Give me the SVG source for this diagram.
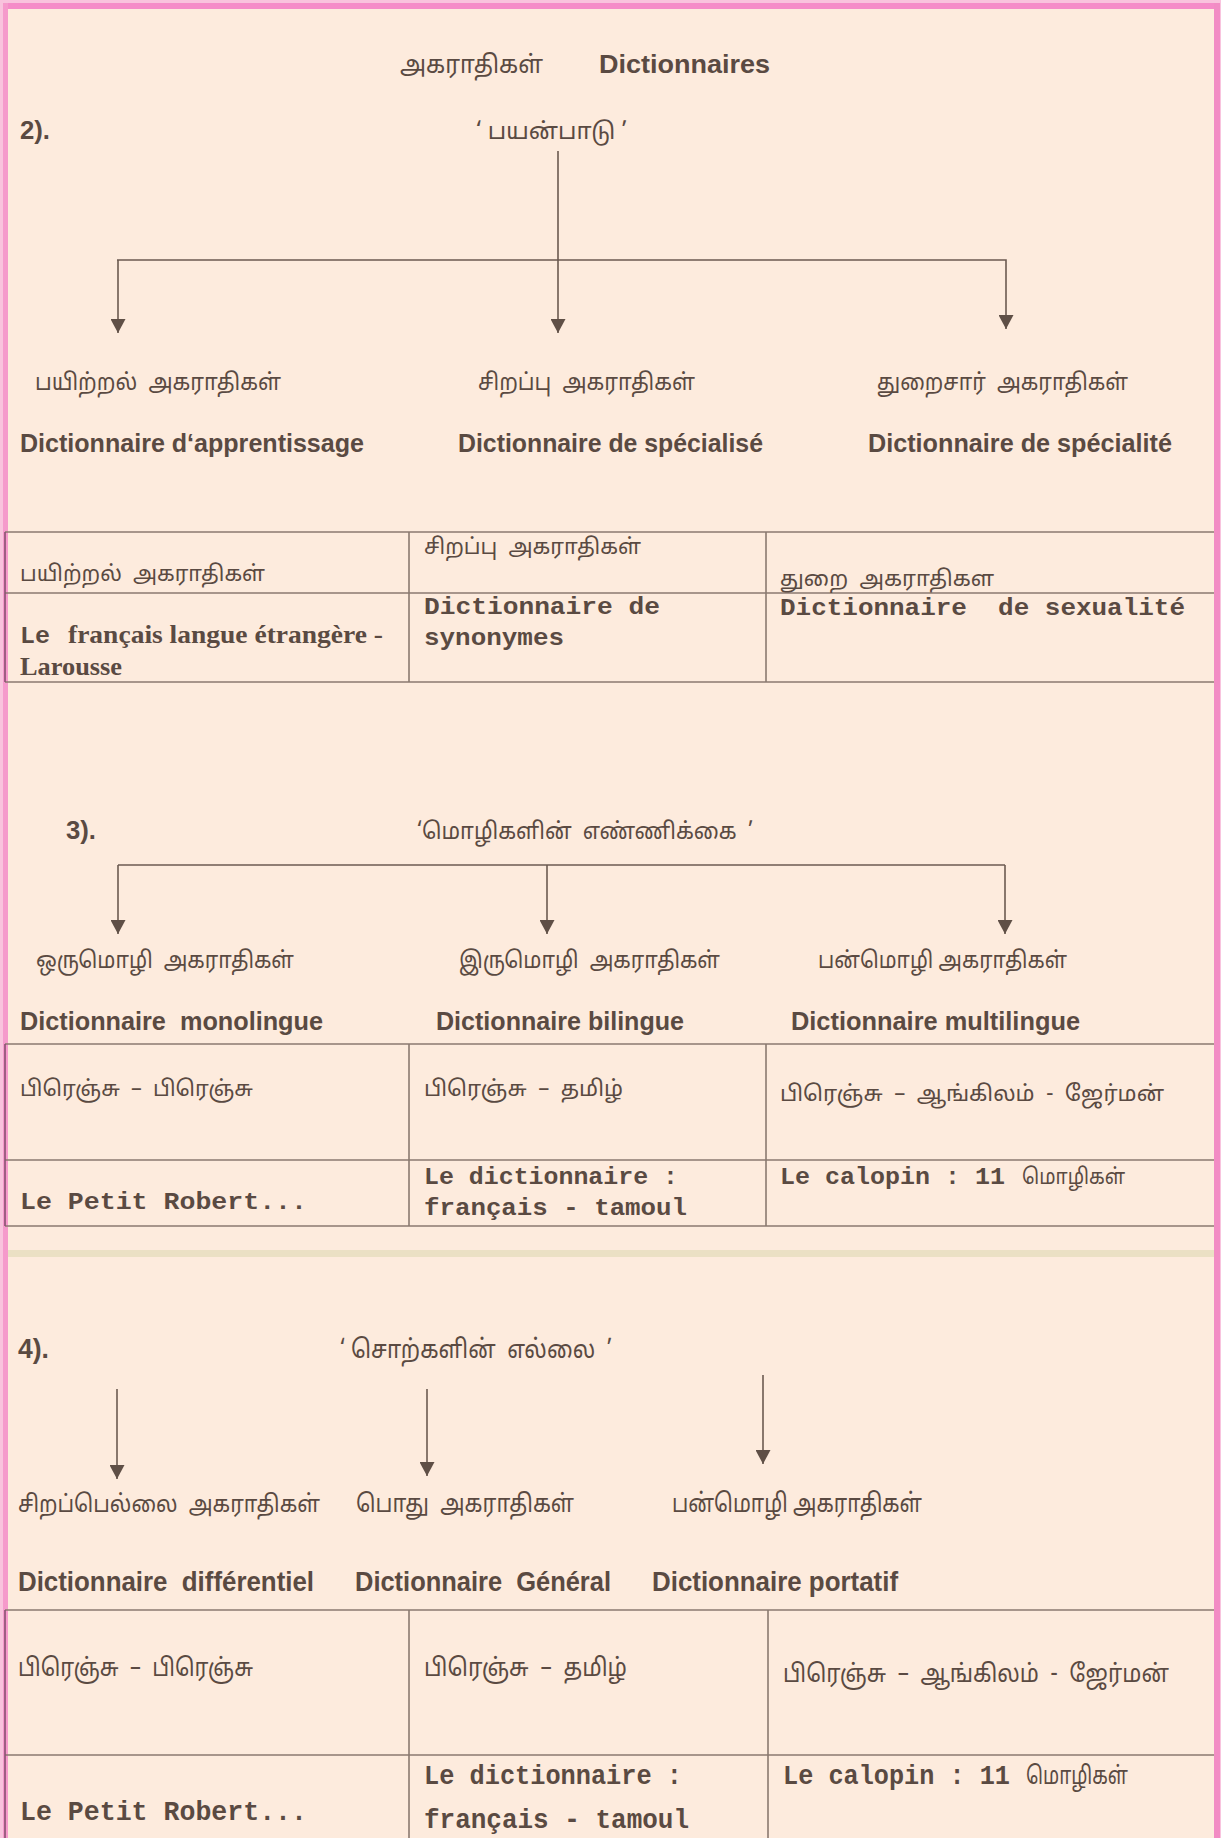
<svg xmlns="http://www.w3.org/2000/svg" width="1221" height="1838" viewBox="0 0 1221 1838">
<defs>
<style>
text{fill:#5a4a42;white-space:pre}
.ta{font-family:"Noto Sans Tamil","Lohit Tamil","Noto Serif Tamil","Noto Sans",sans-serif}
.fr{font-family:"Liberation Sans",Arial,sans-serif;font-weight:bold}
.mo{font-family:"Liberation Mono","Courier New",monospace;font-weight:bold}
.se{font-family:"Liberation Serif","Times New Roman",serif;font-weight:bold}
.cn{stroke:#6b5a50;stroke-width:1.6;fill:none}
.tb{stroke:#8a7a70;stroke-width:1.6;fill:none}
</style>
<marker id="ah" viewBox="0 0 14 15" markerWidth="14" markerHeight="15" refX="14" refY="7.5" orient="auto" markerUnits="userSpaceOnUse">
<path d="M0,0 L14,7.5 L0,15 Z" fill="#5f4f46"/>
</marker>
</defs>
<rect x="0" y="0" width="1221" height="1838" fill="#fdebdd"/>
<rect x="0" y="1250" width="1214" height="7" fill="#ebe0c4"/>
<!-- border -->
<rect x="0" y="0" width="1221" height="3" fill="#f9c3dd"/>
<rect x="0" y="3" width="1221" height="6" fill="#f58cc8"/>
<rect x="0" y="0" width="3" height="1838" fill="#f9c3dd"/>
<rect x="3" y="3" width="5" height="1835" fill="#f59acb"/>
<rect x="1214" y="3" width="6" height="1835" fill="#f28cc4"/>
<rect x="1220" y="0" width="1" height="1838" fill="#f8c4de"/>

<g id="title">
<text class="ta" x="400" y="73" font-size="25" textLength="143" lengthAdjust="spacingAndGlyphs">அகராதிகள்</text>
<text class="fr" x="599" y="73" font-size="26" textLength="171" lengthAdjust="spacingAndGlyphs">Dictionnaires</text>
</g>

<!-- Section 2 -->
<g id="s2-num"><text class="fr" x="20" y="139" font-size="25" textLength="30" lengthAdjust="spacingAndGlyphs">2).</text></g>
<g id="s2-root"><text class="ta" x="476" y="139" font-size="23" textLength="151" lengthAdjust="spacingAndGlyphs">‘ பயன்பாடு ’</text></g>
<g id="s2-n1">
<text class="ta" x="35" y="390" font-size="23" textLength="246" lengthAdjust="spacingAndGlyphs">பயிற்றல்  அகராதிகள்</text>
<text class="fr" x="20" y="452" font-size="25" textLength="344" lengthAdjust="spacingAndGlyphs">Dictionnaire d‘apprentissage</text>
</g>
<g id="s2-n2">
<text class="ta" x="478" y="390" font-size="23" textLength="217" lengthAdjust="spacingAndGlyphs">சிறப்பு  அகராதிகள்</text>
<text class="fr" x="458" y="452" font-size="25" textLength="305" lengthAdjust="spacingAndGlyphs">Dictionnaire de spécialisé</text>
</g>
<g id="s2-n3">
<text class="ta" x="877" y="390" font-size="23" textLength="251" lengthAdjust="spacingAndGlyphs">துறைசார்  அகராதிகள்</text>
<text class="fr" x="868" y="452" font-size="25" textLength="304" lengthAdjust="spacingAndGlyphs">Dictionnaire de spécialité</text>
</g>
<g id="s2-table">
<path class="tb" d="M5,532 H1214 M5,593 H1214 M5,682 H1214 M409,532 V682 M766,532 V682"/>
<path d="M5,532 V682" stroke="#8a5070" stroke-width="1.6"/>
<text class="ta" x="20" y="581" font-size="22" textLength="245" lengthAdjust="spacingAndGlyphs">பயிற்றல்  அகராதிகள்</text>
<text class="ta" x="424" y="554" font-size="22" textLength="217" lengthAdjust="spacingAndGlyphs">சிறப்பு  அகராதிகள்</text>
<text class="ta" x="780" y="586" font-size="22" textLength="214" lengthAdjust="spacingAndGlyphs">துறை  அகராதிகள</text>
<text class="mo" x="20" y="643" font-size="24" textLength="30" lengthAdjust="spacingAndGlyphs">Le</text>
<text class="se" x="68" y="643" font-size="25" textLength="315" lengthAdjust="spacingAndGlyphs">français langue étrangère -</text>
<text class="se" x="20" y="675" font-size="25" textLength="102" lengthAdjust="spacingAndGlyphs">Larousse</text>
<text class="mo" x="424" y="614" font-size="24" textLength="236" lengthAdjust="spacingAndGlyphs">Dictionnaire de</text>
<text class="mo" x="424" y="645" font-size="24" textLength="140" lengthAdjust="spacingAndGlyphs">synonymes</text>
<text class="mo" x="780" y="615" font-size="24" textLength="405" lengthAdjust="spacingAndGlyphs">Dictionnaire  de sexualité</text>
</g>

<!-- Section 3 -->
<g id="s3-num"><text class="fr" x="66" y="839" font-size="25" textLength="30" lengthAdjust="spacingAndGlyphs">3).</text></g>
<g id="s3-root"><text class="ta" x="417" y="839" font-size="23" textLength="336" lengthAdjust="spacingAndGlyphs">‘மொழிகளின்  எண்ணிக்கை  ’</text></g>
<g id="s3-n1">
<text class="ta" x="36" y="968" font-size="23" textLength="258" lengthAdjust="spacingAndGlyphs">ஒருமொழி  அகராதிகள்</text>
<text class="fr" x="20" y="1030" font-size="25" textLength="303" lengthAdjust="spacingAndGlyphs">Dictionnaire  monolingue</text>
</g>
<g id="s3-n2">
<text class="ta" x="459" y="968" font-size="23" textLength="261" lengthAdjust="spacingAndGlyphs">இருமொழி  அகராதிகள்</text>
<text class="fr" x="436" y="1030" font-size="25" textLength="248" lengthAdjust="spacingAndGlyphs">Dictionnaire bilingue</text>
</g>
<g id="s3-n3">
<text class="ta" x="818" y="968" font-size="23" textLength="249" lengthAdjust="spacingAndGlyphs">பன்மொழி அகராதிகள்</text>
<text class="fr" x="791" y="1030" font-size="25" textLength="289" lengthAdjust="spacingAndGlyphs">Dictionnaire multilingue</text>
</g>
<g id="s3-table">
<path class="tb" d="M5,1044 H1214 M5,1160 H1214 M5,1226 H1214 M409,1044 V1226 M766,1044 V1226"/>
<path d="M5,1044 V1226" stroke="#8a5070" stroke-width="1.6"/>
<text class="ta" x="20" y="1096" font-size="22" textLength="233" lengthAdjust="spacingAndGlyphs">பிரெஞ்சு  –  பிரெஞ்சு</text>
<text class="ta" x="424" y="1096" font-size="22" textLength="199" lengthAdjust="spacingAndGlyphs">பிரெஞ்சு  –  தமிழ்</text>
<text class="ta" x="780" y="1101" font-size="22" textLength="384" lengthAdjust="spacingAndGlyphs">பிரெஞ்சு  –  ஆங்கிலம்  -  ஜேர்மன்</text>
<text class="mo" x="20" y="1209" font-size="24" textLength="287" lengthAdjust="spacingAndGlyphs">Le Petit Robert...</text>
<text class="mo" x="424" y="1184" font-size="24" textLength="254" lengthAdjust="spacingAndGlyphs">Le dictionnaire :</text>
<text class="mo" x="424" y="1215" font-size="24" textLength="263" lengthAdjust="spacingAndGlyphs">français - tamoul</text>
<text class="mo" x="780" y="1184" font-size="24" textLength="225" lengthAdjust="spacingAndGlyphs">Le calopin : 11</text>
<text class="ta" x="1022" y="1184" font-size="22" textLength="103" lengthAdjust="spacingAndGlyphs">மொழிகள்</text>
</g>

<!-- Section 4 -->
<g id="s4-num"><text class="fr" x="18" y="1358" font-size="28" textLength="31" lengthAdjust="spacingAndGlyphs">4).</text></g>
<g id="s4-root"><text class="ta" x="340" y="1358" font-size="26" textLength="272" lengthAdjust="spacingAndGlyphs">‘ சொற்களின்  எல்லை  ’</text></g>
<g id="s4-n1">
<text class="ta" x="18" y="1512" font-size="24" textLength="302" lengthAdjust="spacingAndGlyphs">சிறப்பெல்லை  அகராதிகள்</text>
<text class="fr" x="18" y="1591" font-size="28" textLength="296" lengthAdjust="spacingAndGlyphs">Dictionnaire  différentiel</text>
</g>
<g id="s4-n2">
<text class="ta" x="356" y="1512" font-size="25" textLength="218" lengthAdjust="spacingAndGlyphs">பொது  அகராதிகள்</text>
<text class="fr" x="355" y="1591" font-size="28" textLength="256" lengthAdjust="spacingAndGlyphs">Dictionnaire  Général</text>
</g>
<g id="s4-n3">
<text class="ta" x="672" y="1512" font-size="26" textLength="250" lengthAdjust="spacingAndGlyphs">பன்மொழி அகராதிகள்</text>
<text class="fr" x="652" y="1591" font-size="28" textLength="246" lengthAdjust="spacingAndGlyphs">Dictionnaire portatif</text>
</g>
<g id="s4-table">
<path class="tb" d="M5,1610 H1214 M5,1755 H1214 M409,1610 V1838 M768,1610 V1838"/>
<path d="M5,1610 V1838" stroke="#8a5070" stroke-width="1.6"/>
<text class="ta" x="18" y="1676" font-size="25" textLength="235" lengthAdjust="spacingAndGlyphs">பிரெஞ்சு  –  பிரெஞ்சு</text>
<text class="ta" x="424" y="1676" font-size="25" textLength="203" lengthAdjust="spacingAndGlyphs">பிரெஞ்சு  –  தமிழ்</text>
<text class="ta" x="783" y="1682" font-size="25" textLength="386" lengthAdjust="spacingAndGlyphs">பிரெஞ்சு  –  ஆங்கிலம்  -  ஜேர்மன்</text>
<text class="mo" x="20" y="1820" font-size="27" textLength="287" lengthAdjust="spacingAndGlyphs">Le Petit Robert...</text>
<text class="mo" x="424" y="1784" font-size="27" textLength="258" lengthAdjust="spacingAndGlyphs">Le dictionnaire :</text>
<text class="mo" x="424" y="1828" font-size="27" textLength="265" lengthAdjust="spacingAndGlyphs">français - tamoul</text>
<text class="mo" x="783" y="1784" font-size="27" textLength="227" lengthAdjust="spacingAndGlyphs">Le calopin : 11</text>
<text class="ta" x="1026" y="1784" font-size="25" textLength="102" lengthAdjust="spacingAndGlyphs">மொழிகள்</text>
</g>

<g id="connectors">
<path class="cn" d="M558,151 V261 M117,260 H1006 V262"/>
<path class="cn" d="M118,260 V333" marker-end="url(#ah)"/>
<path class="cn" d="M558,261 V333" marker-end="url(#ah)"/>
<path class="cn" d="M1006,262 V329" marker-end="url(#ah)"/>
<path class="cn" d="M118,865 H1005"/>
<path class="cn" d="M118,865 V934" marker-end="url(#ah)"/>
<path class="cn" d="M547,865 V934" marker-end="url(#ah)"/>
<path class="cn" d="M1005,865 V934" marker-end="url(#ah)"/>
<path class="cn" d="M117,1389 V1479" marker-end="url(#ah)"/>
<path class="cn" d="M427,1389 V1476" marker-end="url(#ah)"/>
<path class="cn" d="M763,1375 V1464" marker-end="url(#ah)"/>
</g>
</svg>
